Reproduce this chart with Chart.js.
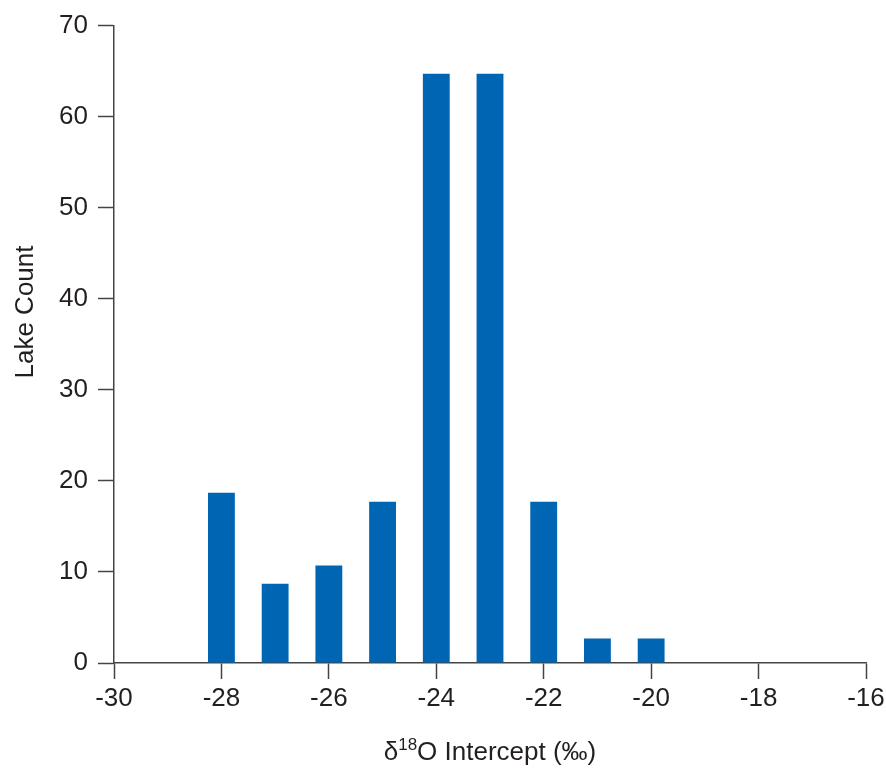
<!DOCTYPE html>
<html>
<head>
<meta charset="utf-8">
<script src="https://cdn.jsdelivr.net/npm/chart.js@4.4.1/dist/chart.umd.min.js"></script>
<style>
  html, body { margin: 0; padding: 0; background: #fff; }
  #wrap { width: 886px; height: 773px; position: relative; }
</style>
</head>
<body>
<div id="wrap"><canvas id="lakeChart"></canvas></div>
<script>
// bin centres (per mil) and lake counts
const binCentres = [-28, -27, -26, -25, -24, -23, -22, -21, -20];
const lakeCounts = [18.7, 8.7, 10.7, 17.7, 64.7, 64.7, 17.7, 2.7, 2.7];
const xTicks = [-30, -28, -26, -24, -22, -20, -18, -16];
const yTicks = [0, 10, 20, 30, 40, 50, 60, 70];

const FONT = '"Liberation Sans", Arial, sans-serif';
const TEXT = '#231f20';
const AXIS = '#444444';

// axis titles drawn by hand so the superscript 18 works
const axisTitles = {
    id: 'axisTitles',
    afterDraw(chart) {
        const ctx = chart.ctx;
        const area = chart.chartArea;
        ctx.save();
        ctx.fillStyle = TEXT;
        ctx.textBaseline = 'alphabetic';
        ctx.textAlign = 'left';

        // x title: δ18O Intercept (‰)
        const big = '26px ' + FONT;
        const small = '17px ' + FONT;
        ctx.font = big;
        const w1 = ctx.measureText('\u03b4').width;
        const w3 = ctx.measureText('O Intercept (\u2030)').width;
        ctx.font = small;
        const w2 = ctx.measureText('18').width;
        let x = (area.left + area.right) / 2 - (w1 + w2 + w3) / 2;
        const base = 760;
        ctx.font = big;
        ctx.fillText('\u03b4', x, base);
        x += w1;
        ctx.font = small;
        ctx.fillText('18', x, base - 10);
        x += w2;
        ctx.font = big;
        ctx.fillText('O Intercept (\u2030)', x, base);

        // y title
        ctx.translate(33, 312);
        ctx.rotate(-Math.PI / 2);
        ctx.textAlign = 'center';
        ctx.font = big;
        ctx.fillText('Lake Count', 0, 0);
        ctx.restore();
    }
};

const ctx = document.getElementById('lakeChart');

new Chart(ctx, {
    type: 'bar',
    data: {
        datasets: [{
            label: 'Lake Count',
            data: binCentres.map((c, i) => ({ x: c, y: lakeCounts[i] })),
            backgroundColor: '#0066b3',
            borderWidth: 0,
            barPercentage: 0.5,
            categoryPercentage: 1.0
        }]
    },
    options: {
        responsive: true,
        maintainAspectRatio: false,
        animation: false,
        layout: { padding: { left: 0, right: 20, top: 25, bottom: 0 } },
        plugins: {
            legend: { display: false },
            tooltip: { enabled: false }
        },
        scales: {
            x: {
                type: 'linear',
                min: xTicks[0],
                max: xTicks[xTicks.length - 1],
                offset: false,
                afterBuildTicks: (scale) => { scale.ticks = xTicks.map(v => ({ value: v })); },
                afterFit: (scale) => {
                    scale.height = 110;
                    scale.paddingLeft = 0;
                    scale.paddingRight = 0;
                },
                grid: {
                    offset: false,
                    drawOnChartArea: false,
                    drawTicks: true,
                    tickLength: 16,
                    tickColor: AXIS,
                    tickWidth: 1.5
                },
                border: { display: true, color: AXIS, width: 1.5 },
                ticks: {
                    color: TEXT,
                    font: { family: FONT, size: 26 },
                    padding: 4,
                    maxRotation: 0
                }
            },
            y: {
                min: yTicks[0],
                max: yTicks[yTicks.length - 1],
                afterBuildTicks: (scale) => { scale.ticks = yTicks.map(v => ({ value: v })); },
                afterFit: (scale) => { scale.width = 114; },
                grid: {
                    drawOnChartArea: false,
                    drawTicks: true,
                    tickLength: 16,
                    tickColor: AXIS,
                    tickWidth: 1.5
                },
                border: { display: true, color: AXIS, width: 1.5 },
                ticks: {
                    color: TEXT,
                    font: { family: FONT, size: 26 },
                    padding: 10
                }
            }
        }
    },
    plugins: [axisTitles]
});
</script>
</body>
</html>
